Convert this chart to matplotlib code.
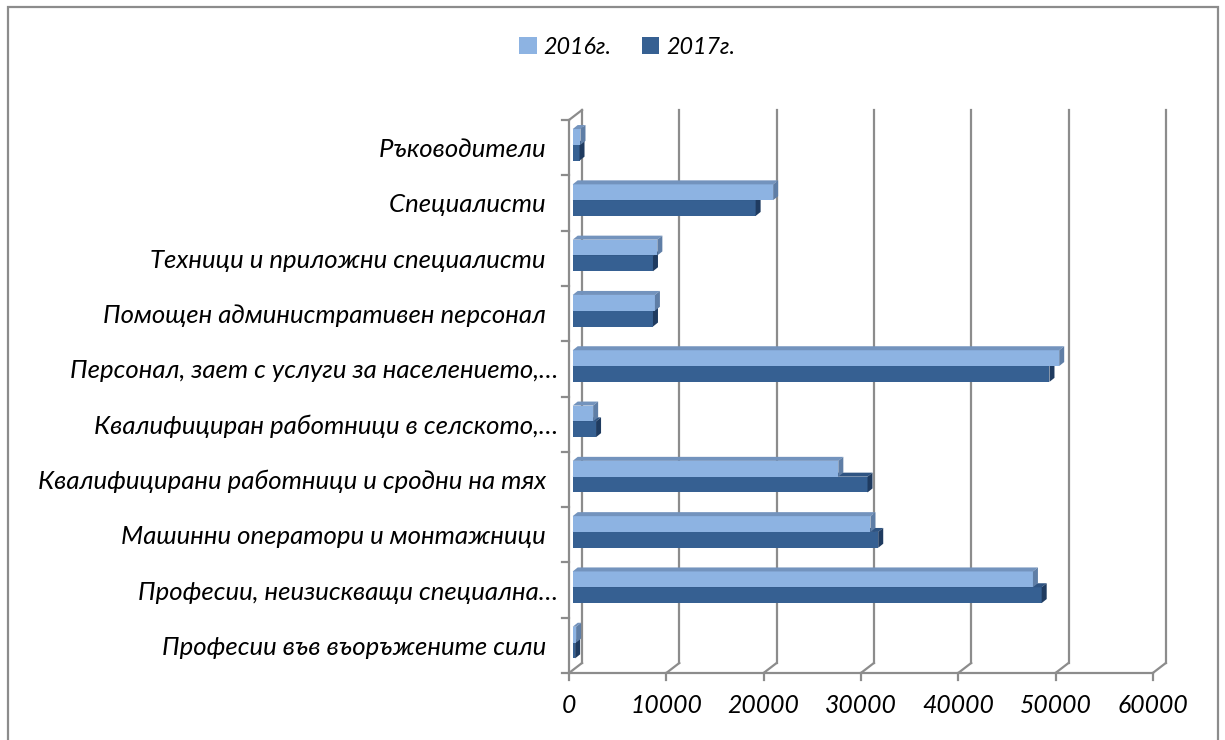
import numpy as np
import matplotlib.pyplot as plt
from matplotlib.patches import Polygon, Rectangle

plt.rcParams['font.family'] = ['Lato', 'DejaVu Sans']
plt.rcParams['font.style'] = 'italic'

sp = '\u00a0\u00a0'
categories = ['Ръководители' + sp, 'Специалисти' + sp, 'Техници и приложни специалисти' + sp,
              'Помощен административен персонал' + sp,
              'Персонал, зает с услуги за населението,…',
              'Квалифициран работници в селското,…',
              'Квалифицирани работници и сродни на тях' + sp,
              'Машинни оператори и монтажници' + sp,
              'Професии, неизискващи специална…',
              'Професии във въоръжените сили' + sp]
v2016 = [800, 20600, 8700, 8450, 50000, 2100, 27300, 30600, 47300, 350]
v2017 = [700, 18800, 8250, 8250, 49000, 2400, 30300, 31400, 48200, 250]
xticks = [0, 10000, 20000, 30000, 40000, 50000, 60000]
series = ['2016г.', '2017г.']

grid_c = '#8c8c8c'
front_c = ['#8db3e2', '#366092']
top_c = ['#7393bd', '#2f5482']
side_c = ['#5f7ea6', '#1f3b60']

W, H = 1225, 740
fig = plt.figure(figsize=(W / 100, H / 100), dpi=100)
ax_w, ax_h = 583.8, 553
ax = fig.add_axes([569 / W, (H - 673) / H, ax_w / W, ax_h / H])
ax.set_xlim(0, 60000)
ax.set_ylim(9.5, -0.5)
xpp = 60000 / ax_w
ypp = 10 / ax_h

# walls and grid (front plane = data coords, back plane shifted 13px right, 10px up)
bx, by = 13 * xpp, -10 * ypp
for t in xticks:
    ax.plot([t + bx] * 2, [9.5 + by, -0.5 + by], color=grid_c, lw=1.6, zorder=1, clip_on=False)
    ax.plot([t, t + bx], [9.5, 9.5 + by], color=grid_c, lw=1.6, zorder=1, clip_on=False)
    ax.plot([t, t], [9.5, 9.5 + 7 * ypp], color=grid_c, lw=1.6, zorder=1, clip_on=False)
ax.plot([0, 60000], [9.5, 9.5], color=grid_c, lw=1.6, zorder=1, clip_on=False)
ax.plot([0, 0], [9.5, -0.5], color=grid_c, lw=1.6, zorder=1, clip_on=False)
ax.plot([0, bx], [-0.5, -0.5 + by], color=grid_c, lw=1.6, zorder=1, clip_on=False)
for b in np.arange(-0.5, 10, 1):
    ax.plot([-7 * xpp, 0], [b, b], color=grid_c, lw=1.6, zorder=1, clip_on=False)

# bars, shifted into their own depth plane
px, py = 3.7 * xpp, -2.8 * ypp
dx, dy = 5 * xpp, -4 * ypp
h = 15.8 * ypp
y = np.arange(len(categories))
handles = []
for k, vals in [(1, v2017), (0, v2016)]:
    yc = y + (h / 2 if k == 1 else -h / 2) + py
    bars = ax.barh(yc, vals, height=h, left=px, color=front_c[k], zorder=3, label=series[k])
    handles.append(bars)
    for yy, v in zip(yc, vals):
        x0, x1 = px, px + v
        yt, yb = yy - h / 2, yy + h / 2
        ax.add_patch(Polygon([(x0, yt), (x1, yt), (x1 + dx, yt + dy), (x0 + dx, yt + dy)],
                             closed=True, fc=top_c[k], ec='none', zorder=3))
        ax.add_patch(Polygon([(x1, yt), (x1, yb), (x1 + dx, yb + dy), (x1 + dx, yt + dy)],
                             closed=True, fc=side_c[k], ec='none', zorder=3))

ax.set_yticks(y)
ax.set_yticklabels(categories, fontsize=18.5)
ax.set_xticks(xticks)
ax.set_xticklabels([str(t) for t in xticks], fontsize=17.8)
ax.tick_params(axis='y', length=0, pad=8)
ax.tick_params(axis='x', length=0, pad=15)
for s in ax.spines.values():
    s.set_visible(False)

fig.legend(handles[::-1], series, loc='center', bbox_to_anchor=(0.512, 0.936), ncol=2,
           frameon=False, fontsize=16.8, handlelength=0.75, handleheight=0.75,
           handletextpad=0.3, columnspacing=1.3)

fig.add_artist(Rectangle((7.5 / W, -0.05), (1218 - 7.5) / W, 1.05 - 7 / H,
                         transform=fig.transFigure, fill=False, ec=grid_c, lw=1.6))

fig.savefig('out.png', dpi=100)
